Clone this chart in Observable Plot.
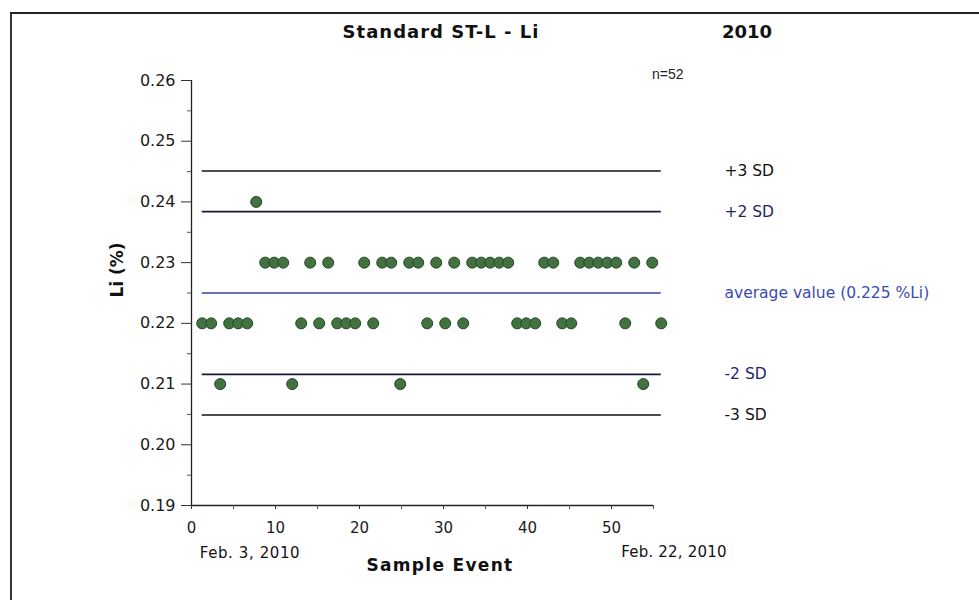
<!DOCTYPE html>
<html><head><meta charset="utf-8">
<script src="https://cdn.jsdelivr.net/npm/d3@7"></script>
<script src="https://cdn.jsdelivr.net/npm/@observablehq/plot@0.6"></script>
<style>
body{margin:0;background:#fff}
#wrap{position:relative;width:979px;height:600px;overflow:hidden;background:#fff;font-family:"DejaVu Sans",sans-serif;color:#111}
#wrap svg{position:absolute;left:0;top:0}
.t{position:absolute;white-space:nowrap;line-height:1;transform:translate(0,-50%)}
.c{transform:translate(-50%,-50%)}
.b{font-weight:bold}
#border{position:absolute;left:10px;top:12px;width:990px;height:600px;border-top:2px solid #222;border-left:2px solid #333}
</style></head><body>
<div id="wrap">
<div id="border"></div>
</div>
<script>
// ---- data ----
const samples = [1,2,3,4,5,6,7,8,9,10,11,12,13,14,15,16,17,18,19,20,21,22,23,24,25,26,
  27,28,29,30,31,32,33,34,35,36,37,38,39,40,41,42,43,44,45,46,47,48,49,50,51,52];
const liValues = [0.22,0.22,0.21,0.22,0.22,0.22,0.24,0.23,0.23,0.23,0.21,0.22,0.23,0.22,0.23,0.22,0.22,0.22,0.23,0.22,
  0.23,0.23,0.21,0.23,0.23,0.22,0.23,0.22,0.23,0.22,0.23,0.23,0.23,0.23,0.23,0.22,0.22,0.22,0.23,0.23,
  0.22,0.22,0.23,0.23,0.23,0.23,0.23,0.22,0.23,0.21,0.23,0.22];
const limitLabels = ["+3 SD","+2 SD","average value (0.225 %Li)","-2 SD","-3 SD"];
const limitValues = [0.2451,0.2384,0.225,0.2116,0.2049];
const limitLineColors = ["#111111","#191938","#3345ad","#191938","#111111"];
const limitTextColors = ["#111111","#1f2468","#3b4bb0","#1f2468","#111111"];
const yTicks = [0.19,0.20,0.21,0.22,0.23,0.24,0.25,0.26];
const yMinorTicks = [0.195,0.205,0.215,0.225,0.235,0.245,0.255];
const xTicks = [0,10,20,30,40,50];
const xMinorTicks = [5,15,25,35,45,55];
const title = "Standard ST-L - Li";
const yearLabel = "2010";
const countLabel = "n=52";
const startDate = "Feb. 3, 2010";
const endDate = "Feb. 22, 2010";
const xLabel = "Sample Event";
const yLabel = "Li (%)";

const points = samples.map((s,i)=>({sample:s, li:liValues[i]}));
const limits = limitValues.map((v,i)=>({value:v, label:limitLabels[i], line:limitLineColors[i], tcolor:limitTextColors[i]}));

const common = {
  width:979, height:600, marginLeft:191, marginRight:326, marginTop:80, marginBottom:95,
  style:{background:"transparent", fontFamily:"DejaVu Sans", overflow:"visible", color:"#1a1a1a"}
};
const yScale = {domain:[0.19,0.26]};

// axis layer (Sample Event axis 0..55)
const axes = Plot.plot({
  ...common,
  x:{domain:[0,55]},
  y:yScale,
  marks:[
    Plot.ruleX([0],{y1:0.19,y2:0.26,stroke:"#222",strokeWidth:1.3}),
    Plot.ruleY([0.19],{x1:0,x2:55,stroke:"#222",strokeWidth:1.3}),
    Plot.axisY({ticks:yTicks, tickFormat:d3.format(".2f"), tickSize:10, tickPadding:6, fontSize:16, label:null, stroke:"#333", style:{letterSpacing:"0.4px"}}),
    Plot.axisY({ticks:yMinorTicks, tickFormat:()=>"", tickSize:4, label:null, stroke:"#555"}),
    Plot.axisX({ticks:xTicks, tickFormat:d3.format("d"), tickSize:4, tickPadding:13, fontSize:15, label:null, stroke:"#333"}),
    Plot.axisX({ticks:xMinorTicks, tickFormat:()=>"", tickSize:4, label:null, stroke:"#555"})
  ]
});

// data layer (sample index scale)
const layer = Plot.plot({
  ...common,
  x:{domain:[-0.19,51.14], axis:null},
  y:{...yScale, axis:null},
  color:{type:"identity"},
  marks:[
    Plot.ruleY(limits,{y:"value", x1:1, x2:52, stroke:"line", strokeWidth:1.6}),
    Plot.dot(points,{x:"sample", y:"li", r:5.5, fill:"#42723f", stroke:"#25452a", strokeWidth:1}),
    Plot.text(limits,{y:"value", text:"label", fill:"tcolor", frameAnchor:"right", dx:71, textAnchor:"start", fontSize:15.5, style:{letterSpacing:"0.8px"}}),
    Plot.text([countLabel],{frameAnchor:"top-right", dx:30, dy:-6, textAnchor:"end", lineAnchor:"middle", fontSize:14, fontFamily:"Liberation Sans", fill:"#222"})
  ]
});

const wrap = document.getElementById("wrap");
wrap.appendChild(axes);
wrap.appendChild(layer);

function addText(txt, x, y, cls, extra){
  const d = document.createElement("div");
  d.className = "t " + cls;
  d.textContent = txt;
  d.style.left = x + "px"; d.style.top = y + "px";
  Object.assign(d.style, extra||{});
  wrap.appendChild(d);
  return d;
}
addText(title, 441, 32, "c b", {fontSize:"18px", letterSpacing:"1px"});
addText(yearLabel, 722, 32, "b", {fontSize:"18px"});
addText(startDate, 250, 553, "c", {fontSize:"15px", letterSpacing:"0.6px"});
addText(endDate, 674, 552, "c", {fontSize:"15px", letterSpacing:"0.2px"});
addText(xLabel, 440, 565, "c b", {fontSize:"17px", letterSpacing:"1.3px"});
addText(yLabel, 117, 270, "c b", {fontSize:"17px", transform:"translate(-50%,-50%) rotate(-90deg)"});
</script>
</body></html>
